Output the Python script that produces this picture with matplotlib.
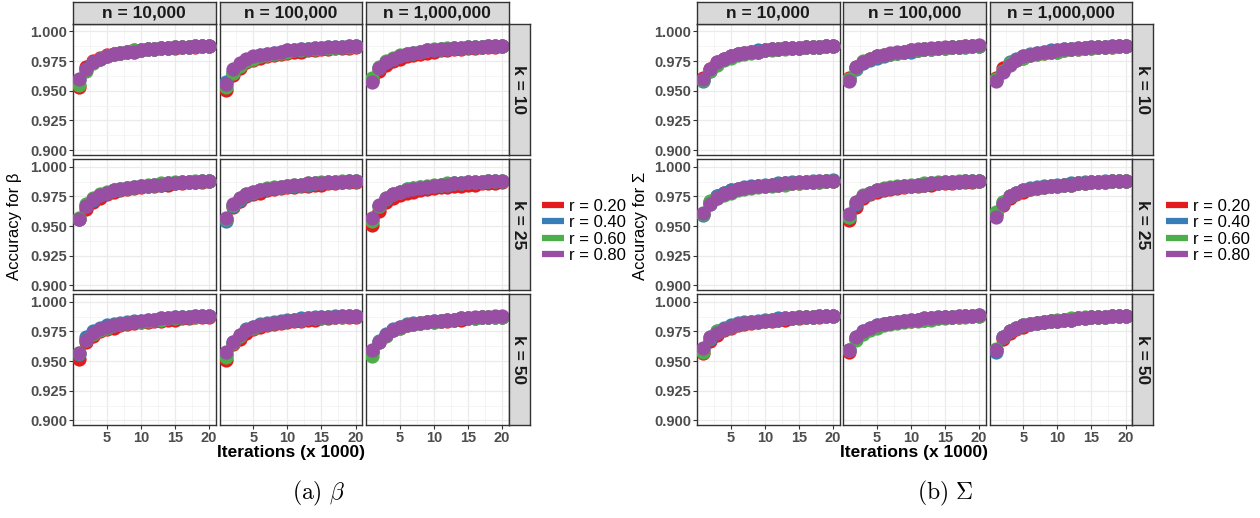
import matplotlib
matplotlib.use("Agg")
import matplotlib.pyplot as plt
from matplotlib.lines import Line2D
from matplotlib.ticker import MultipleLocator

plt.rcParams['font.family'] = ['Liberation Sans', 'DejaVu Sans']
plt.rcParams['mathtext.fontset'] = 'cm'

W, H = 1260, 518

iterations = list(range(1, 21))
n_labels = ['n = 10,000', 'n = 100,000', 'n = 1,000,000']
k_labels = ['k = 10', 'k = 25', 'k = 50']
r_labels = ['r = 0.20', 'r = 0.40', 'r = 0.60', 'r = 0.80']
r_colors = ['#E41A1C', '#377EB8', '#4DAF4A', '#984EA3']

# ---- accuracy for beta: each panel holds one series per r (0.20, 0.40, 0.60, 0.80)
b_k10_n1 = [
    [0.953, 0.970, 0.975, 0.978, 0.980, 0.981, 0.982, 0.983, 0.984, 0.984, 0.985, 0.985, 0.986, 0.986, 0.986, 0.987, 0.987, 0.987, 0.988, 0.988],
    [0.959, 0.968, 0.974, 0.977, 0.979, 0.981, 0.982, 0.983, 0.983, 0.984, 0.985, 0.985, 0.986, 0.986, 0.987, 0.987, 0.987, 0.988, 0.988, 0.988],
    [0.955, 0.967, 0.973, 0.977, 0.979, 0.981, 0.982, 0.983, 0.984, 0.984, 0.985, 0.985, 0.986, 0.986, 0.987, 0.987, 0.987, 0.988, 0.988, 0.988],
    [0.960, 0.968, 0.974, 0.977, 0.979, 0.981, 0.982, 0.983, 0.983, 0.984, 0.985, 0.985, 0.986, 0.986, 0.987, 0.987, 0.987, 0.988, 0.988, 0.988],
]
b_k10_n2 = [
    [0.951, 0.963, 0.969, 0.974, 0.976, 0.978, 0.979, 0.980, 0.981, 0.982, 0.983, 0.983, 0.984, 0.984, 0.985, 0.985, 0.986, 0.986, 0.986, 0.987],
    [0.957, 0.966, 0.972, 0.976, 0.978, 0.980, 0.981, 0.982, 0.983, 0.984, 0.984, 0.985, 0.985, 0.986, 0.986, 0.987, 0.987, 0.987, 0.988, 0.988],
    [0.953, 0.965, 0.971, 0.975, 0.977, 0.979, 0.980, 0.981, 0.982, 0.983, 0.984, 0.984, 0.985, 0.985, 0.986, 0.986, 0.986, 0.987, 0.987, 0.988],
    [0.956, 0.968, 0.973, 0.977, 0.979, 0.980, 0.981, 0.982, 0.983, 0.984, 0.984, 0.985, 0.985, 0.986, 0.986, 0.987, 0.987, 0.987, 0.988, 0.988],
]
b_k10_n3 = [
    [0.958, 0.967, 0.972, 0.975, 0.977, 0.979, 0.980, 0.981, 0.982, 0.983, 0.984, 0.984, 0.985, 0.985, 0.986, 0.986, 0.987, 0.987, 0.987, 0.988],
    [0.960, 0.969, 0.974, 0.977, 0.979, 0.981, 0.982, 0.983, 0.984, 0.984, 0.985, 0.985, 0.986, 0.986, 0.987, 0.987, 0.987, 0.988, 0.988, 0.988],
    [0.961, 0.970, 0.975, 0.978, 0.980, 0.981, 0.982, 0.983, 0.984, 0.985, 0.985, 0.986, 0.986, 0.986, 0.987, 0.987, 0.987, 0.988, 0.988, 0.988],
    [0.957, 0.969, 0.974, 0.977, 0.979, 0.981, 0.982, 0.983, 0.984, 0.984, 0.985, 0.985, 0.986, 0.986, 0.987, 0.987, 0.987, 0.988, 0.988, 0.988],
]
b_k25_n1 = [
    [0.956, 0.964, 0.970, 0.974, 0.977, 0.979, 0.980, 0.981, 0.982, 0.983, 0.984, 0.984, 0.985, 0.985, 0.986, 0.986, 0.987, 0.987, 0.987, 0.988],
    [0.956, 0.967, 0.972, 0.976, 0.978, 0.980, 0.981, 0.982, 0.983, 0.984, 0.984, 0.985, 0.985, 0.986, 0.986, 0.987, 0.987, 0.987, 0.988, 0.988],
    [0.957, 0.969, 0.974, 0.977, 0.979, 0.980, 0.981, 0.982, 0.983, 0.984, 0.985, 0.985, 0.986, 0.986, 0.987, 0.987, 0.987, 0.988, 0.988, 0.988],
    [0.956, 0.967, 0.973, 0.976, 0.978, 0.980, 0.981, 0.982, 0.983, 0.984, 0.984, 0.985, 0.985, 0.986, 0.986, 0.987, 0.987, 0.987, 0.988, 0.988],
]
b_k25_n2 = [
    [0.956, 0.966, 0.971, 0.975, 0.977, 0.978, 0.980, 0.981, 0.982, 0.983, 0.983, 0.984, 0.984, 0.985, 0.985, 0.986, 0.986, 0.987, 0.987, 0.987],
    [0.954, 0.967, 0.972, 0.976, 0.978, 0.980, 0.981, 0.982, 0.983, 0.984, 0.984, 0.985, 0.985, 0.986, 0.986, 0.987, 0.987, 0.987, 0.988, 0.988],
    [0.956, 0.968, 0.974, 0.977, 0.979, 0.980, 0.982, 0.983, 0.983, 0.984, 0.985, 0.985, 0.986, 0.986, 0.987, 0.987, 0.987, 0.988, 0.988, 0.988],
    [0.957, 0.969, 0.974, 0.977, 0.979, 0.980, 0.981, 0.982, 0.983, 0.984, 0.985, 0.985, 0.986, 0.986, 0.986, 0.987, 0.987, 0.987, 0.988, 0.988],
]
b_k25_n3 = [
    [0.951, 0.963, 0.970, 0.974, 0.976, 0.978, 0.979, 0.980, 0.981, 0.982, 0.983, 0.983, 0.984, 0.984, 0.985, 0.985, 0.986, 0.986, 0.986, 0.987],
    [0.955, 0.967, 0.973, 0.977, 0.979, 0.981, 0.982, 0.983, 0.983, 0.984, 0.985, 0.985, 0.986, 0.986, 0.987, 0.987, 0.987, 0.988, 0.988, 0.988],
    [0.954, 0.967, 0.974, 0.977, 0.979, 0.981, 0.982, 0.983, 0.984, 0.985, 0.985, 0.986, 0.986, 0.986, 0.987, 0.987, 0.987, 0.988, 0.988, 0.988],
    [0.957, 0.968, 0.974, 0.977, 0.979, 0.980, 0.981, 0.982, 0.983, 0.984, 0.985, 0.985, 0.986, 0.986, 0.987, 0.987, 0.987, 0.988, 0.988, 0.988],
]
b_k50_n1 = [
    [0.952, 0.966, 0.971, 0.975, 0.977, 0.978, 0.980, 0.981, 0.982, 0.983, 0.983, 0.984, 0.984, 0.985, 0.985, 0.986, 0.986, 0.987, 0.987, 0.987],
    [0.956, 0.970, 0.975, 0.978, 0.980, 0.981, 0.982, 0.983, 0.984, 0.984, 0.985, 0.985, 0.986, 0.986, 0.987, 0.987, 0.987, 0.988, 0.988, 0.988],
    [0.957, 0.968, 0.973, 0.976, 0.978, 0.980, 0.981, 0.982, 0.983, 0.983, 0.984, 0.985, 0.985, 0.986, 0.986, 0.987, 0.987, 0.987, 0.988, 0.988],
    [0.957, 0.968, 0.974, 0.977, 0.979, 0.980, 0.981, 0.982, 0.983, 0.984, 0.985, 0.985, 0.986, 0.986, 0.987, 0.987, 0.987, 0.988, 0.988, 0.988],
]
b_k50_n2 = [
    [0.951, 0.964, 0.969, 0.974, 0.977, 0.979, 0.980, 0.981, 0.982, 0.983, 0.984, 0.984, 0.985, 0.985, 0.986, 0.986, 0.987, 0.987, 0.987, 0.987],
    [0.955, 0.966, 0.972, 0.977, 0.979, 0.981, 0.982, 0.983, 0.984, 0.985, 0.985, 0.986, 0.986, 0.987, 0.987, 0.987, 0.988, 0.988, 0.988, 0.988],
    [0.953, 0.965, 0.971, 0.976, 0.978, 0.980, 0.981, 0.982, 0.983, 0.984, 0.985, 0.985, 0.986, 0.986, 0.986, 0.987, 0.987, 0.987, 0.988, 0.988],
    [0.958, 0.966, 0.972, 0.976, 0.979, 0.980, 0.981, 0.982, 0.983, 0.984, 0.985, 0.985, 0.986, 0.986, 0.987, 0.987, 0.987, 0.988, 0.988, 0.988],
]
b_k50_n3 = [
    [0.958, 0.966, 0.972, 0.976, 0.978, 0.980, 0.981, 0.982, 0.983, 0.983, 0.984, 0.984, 0.985, 0.985, 0.986, 0.986, 0.987, 0.987, 0.987, 0.987],
    [0.958, 0.967, 0.973, 0.977, 0.979, 0.981, 0.982, 0.982, 0.983, 0.984, 0.984, 0.985, 0.985, 0.986, 0.986, 0.986, 0.987, 0.987, 0.987, 0.987],
    [0.954, 0.966, 0.971, 0.976, 0.978, 0.980, 0.981, 0.982, 0.983, 0.983, 0.984, 0.985, 0.985, 0.986, 0.986, 0.986, 0.987, 0.987, 0.987, 0.987],
    [0.959, 0.966, 0.972, 0.976, 0.979, 0.980, 0.981, 0.982, 0.983, 0.984, 0.984, 0.985, 0.985, 0.986, 0.986, 0.987, 0.987, 0.987, 0.988, 0.988],
]

# ---- accuracy for Sigma
s_k10_n1 = [
    [0.961, 0.968, 0.974, 0.977, 0.979, 0.981, 0.982, 0.983, 0.983, 0.984, 0.985, 0.985, 0.986, 0.986, 0.986, 0.987, 0.987, 0.987, 0.988, 0.988],
    [0.958, 0.967, 0.973, 0.977, 0.979, 0.981, 0.982, 0.983, 0.984, 0.984, 0.985, 0.985, 0.986, 0.986, 0.986, 0.987, 0.987, 0.987, 0.988, 0.988],
    [0.959, 0.967, 0.972, 0.976, 0.978, 0.980, 0.981, 0.982, 0.983, 0.984, 0.984, 0.985, 0.985, 0.986, 0.986, 0.987, 0.987, 0.987, 0.988, 0.988],
    [0.960, 0.968, 0.974, 0.977, 0.979, 0.981, 0.982, 0.983, 0.983, 0.984, 0.985, 0.985, 0.986, 0.986, 0.986, 0.987, 0.987, 0.987, 0.988, 0.988],
]
s_k10_n2 = [
    [0.961, 0.970, 0.974, 0.977, 0.979, 0.980, 0.981, 0.982, 0.983, 0.984, 0.984, 0.985, 0.985, 0.986, 0.986, 0.987, 0.987, 0.988, 0.988, 0.988],
    [0.959, 0.968, 0.973, 0.976, 0.978, 0.979, 0.981, 0.982, 0.983, 0.983, 0.984, 0.985, 0.985, 0.986, 0.986, 0.987, 0.987, 0.987, 0.988, 0.988],
    [0.960, 0.969, 0.975, 0.977, 0.979, 0.980, 0.981, 0.982, 0.983, 0.984, 0.984, 0.985, 0.985, 0.986, 0.986, 0.987, 0.987, 0.987, 0.988, 0.988],
    [0.958, 0.970, 0.974, 0.977, 0.979, 0.980, 0.982, 0.983, 0.983, 0.984, 0.985, 0.985, 0.986, 0.986, 0.987, 0.987, 0.987, 0.988, 0.988, 0.989],
]
s_k10_n3 = [
    [0.961, 0.969, 0.973, 0.976, 0.978, 0.980, 0.981, 0.982, 0.983, 0.983, 0.984, 0.985, 0.985, 0.986, 0.986, 0.987, 0.987, 0.987, 0.988, 0.988],
    [0.959, 0.967, 0.974, 0.977, 0.979, 0.981, 0.982, 0.983, 0.984, 0.984, 0.985, 0.985, 0.986, 0.986, 0.987, 0.987, 0.987, 0.988, 0.988, 0.988],
    [0.960, 0.967, 0.973, 0.976, 0.978, 0.980, 0.981, 0.982, 0.983, 0.983, 0.984, 0.985, 0.985, 0.986, 0.986, 0.987, 0.987, 0.987, 0.988, 0.988],
    [0.958, 0.966, 0.972, 0.976, 0.979, 0.980, 0.982, 0.983, 0.983, 0.984, 0.985, 0.985, 0.986, 0.986, 0.987, 0.987, 0.987, 0.988, 0.988, 0.988],
]
s_k25_n1 = [
    [0.960, 0.970, 0.975, 0.978, 0.980, 0.981, 0.982, 0.983, 0.984, 0.984, 0.985, 0.985, 0.986, 0.986, 0.986, 0.987, 0.987, 0.987, 0.988, 0.988],
    [0.959, 0.969, 0.975, 0.978, 0.980, 0.981, 0.983, 0.984, 0.984, 0.985, 0.985, 0.986, 0.986, 0.987, 0.987, 0.987, 0.988, 0.988, 0.988, 0.989],
    [0.960, 0.971, 0.974, 0.976, 0.978, 0.980, 0.981, 0.982, 0.983, 0.984, 0.984, 0.985, 0.985, 0.986, 0.986, 0.987, 0.987, 0.987, 0.988, 0.988],
    [0.961, 0.969, 0.974, 0.977, 0.979, 0.981, 0.982, 0.983, 0.984, 0.984, 0.985, 0.985, 0.986, 0.986, 0.987, 0.987, 0.987, 0.988, 0.988, 0.988],
]
s_k25_n2 = [
    [0.955, 0.966, 0.974, 0.977, 0.979, 0.980, 0.981, 0.982, 0.983, 0.984, 0.984, 0.985, 0.985, 0.986, 0.986, 0.986, 0.987, 0.987, 0.987, 0.988],
    [0.958, 0.969, 0.975, 0.978, 0.980, 0.981, 0.982, 0.983, 0.984, 0.984, 0.985, 0.985, 0.986, 0.986, 0.987, 0.987, 0.987, 0.988, 0.988, 0.988],
    [0.958, 0.970, 0.976, 0.978, 0.980, 0.982, 0.983, 0.984, 0.984, 0.985, 0.985, 0.986, 0.986, 0.987, 0.987, 0.987, 0.988, 0.988, 0.988, 0.988],
    [0.960, 0.970, 0.975, 0.978, 0.980, 0.981, 0.982, 0.983, 0.984, 0.984, 0.985, 0.985, 0.986, 0.986, 0.987, 0.987, 0.987, 0.988, 0.988, 0.988],
]
s_k25_n3 = [
    [0.960, 0.968, 0.974, 0.977, 0.979, 0.981, 0.982, 0.983, 0.984, 0.984, 0.985, 0.985, 0.986, 0.986, 0.987, 0.987, 0.987, 0.988, 0.988, 0.988],
    [0.960, 0.970, 0.975, 0.978, 0.980, 0.982, 0.983, 0.984, 0.984, 0.985, 0.985, 0.986, 0.986, 0.987, 0.987, 0.987, 0.988, 0.988, 0.988, 0.988],
    [0.962, 0.970, 0.975, 0.978, 0.980, 0.981, 0.982, 0.983, 0.984, 0.984, 0.985, 0.985, 0.986, 0.986, 0.987, 0.987, 0.987, 0.988, 0.988, 0.988],
    [0.958, 0.969, 0.975, 0.978, 0.980, 0.981, 0.982, 0.983, 0.984, 0.984, 0.985, 0.985, 0.986, 0.986, 0.987, 0.987, 0.987, 0.988, 0.988, 0.988],
]
s_k50_n1 = [
    [0.957, 0.967, 0.972, 0.976, 0.978, 0.980, 0.981, 0.982, 0.983, 0.984, 0.984, 0.985, 0.985, 0.986, 0.986, 0.987, 0.987, 0.987, 0.988, 0.988],
    [0.960, 0.969, 0.975, 0.978, 0.980, 0.982, 0.983, 0.983, 0.984, 0.985, 0.985, 0.986, 0.986, 0.986, 0.987, 0.987, 0.987, 0.988, 0.988, 0.988],
    [0.958, 0.970, 0.975, 0.977, 0.979, 0.981, 0.982, 0.983, 0.983, 0.984, 0.985, 0.985, 0.986, 0.986, 0.987, 0.987, 0.987, 0.988, 0.988, 0.988],
    [0.961, 0.970, 0.974, 0.977, 0.979, 0.981, 0.982, 0.983, 0.983, 0.984, 0.985, 0.985, 0.986, 0.986, 0.987, 0.987, 0.987, 0.988, 0.988, 0.988],
]
s_k50_n2 = [
    [0.958, 0.969, 0.974, 0.977, 0.979, 0.981, 0.982, 0.983, 0.984, 0.984, 0.985, 0.985, 0.986, 0.986, 0.987, 0.987, 0.987, 0.988, 0.988, 0.988],
    [0.959, 0.970, 0.975, 0.978, 0.980, 0.981, 0.982, 0.983, 0.984, 0.985, 0.985, 0.986, 0.986, 0.987, 0.987, 0.987, 0.988, 0.988, 0.988, 0.989],
    [0.959, 0.968, 0.973, 0.976, 0.978, 0.980, 0.981, 0.982, 0.983, 0.984, 0.984, 0.985, 0.985, 0.986, 0.986, 0.987, 0.987, 0.987, 0.988, 0.988],
    [0.959, 0.970, 0.975, 0.978, 0.980, 0.981, 0.982, 0.983, 0.984, 0.985, 0.985, 0.986, 0.986, 0.987, 0.987, 0.987, 0.988, 0.988, 0.988, 0.989],
]
s_k50_n3 = [
    [0.959, 0.969, 0.974, 0.977, 0.979, 0.981, 0.982, 0.983, 0.984, 0.984, 0.985, 0.985, 0.986, 0.986, 0.987, 0.987, 0.987, 0.988, 0.988, 0.988],
    [0.958, 0.970, 0.975, 0.978, 0.980, 0.981, 0.982, 0.983, 0.984, 0.984, 0.985, 0.985, 0.986, 0.986, 0.987, 0.987, 0.987, 0.988, 0.988, 0.988],
    [0.960, 0.970, 0.975, 0.978, 0.980, 0.981, 0.982, 0.983, 0.984, 0.985, 0.985, 0.986, 0.986, 0.987, 0.987, 0.987, 0.987, 0.988, 0.988, 0.988],
    [0.959, 0.970, 0.975, 0.978, 0.980, 0.981, 0.982, 0.983, 0.984, 0.984, 0.985, 0.985, 0.986, 0.986, 0.987, 0.987, 0.987, 0.988, 0.988, 0.988],
]

beta_panels = [[b_k10_n1, b_k10_n2, b_k10_n3],
               [b_k25_n1, b_k25_n2, b_k25_n3],
               [b_k50_n1, b_k50_n2, b_k50_n3]]
sigma_panels = [[s_k10_n1, s_k10_n2, s_k10_n3],
                [s_k25_n1, s_k25_n2, s_k25_n3],
                [s_k50_n1, s_k50_n2, s_k50_n3]]

y_ticks = [0.900, 0.925, 0.950, 0.975, 1.000]
x_ticks = [5, 10, 15, 20]

fig = plt.figure(figsize=(W / 100, H / 100), dpi=100)


def px_axes(x, y, w, h):
    # pixel box (top-left origin) -> figure axes
    return fig.add_axes([x / W, 1 - (y + h) / H, w / W, h / H])


def strip(x, y, w, h, label, rot):
    ax = px_axes(x, y, w, h)
    ax.set_facecolor('#D9D9D9')
    ax.set_xticks([])
    ax.set_yticks([])
    for s in ax.spines.values():
        s.set_color('#333333')
        s.set_linewidth(1.0)
    ax.text(0.5, 0.5, label, transform=ax.transAxes, ha='center', va='center',
            rotation=rot, fontsize=12.5, fontweight='bold', color='#1A1A1A')


def draw_grid(panels, col_x, ylabel, ylabel_x, legend_x, caption, caption_x):
    row_y = [24, 159.3, 294.3]
    pw, ph = 142.5, 131
    for i in range(3):
        for j in range(3):
            ax = px_axes(col_x[j], row_y[i], pw, ph)
            for r in range(4):
                ax.scatter(iterations, panels[i][j][r], s=105, color=r_colors[r],
                           linewidths=0, zorder=3)
            ax.set_xlim(0.05, 20.95)
            ax.set_ylim(0.8958, 1.0063)
            ax.set_xticks(x_ticks)
            ax.set_yticks(y_ticks)
            ax.xaxis.set_minor_locator(MultipleLocator(2.5))
            ax.yaxis.set_minor_locator(MultipleLocator(0.0125))
            ax.grid(which='major', color='#EBEBEB', linewidth=0.9)
            ax.grid(which='minor', color='#F2F2F2', linewidth=0.5)
            ax.set_axisbelow(True)
            for s in ax.spines.values():
                s.set_color('#333333')
                s.set_linewidth(1.0)
            ax.tick_params(which='minor', length=0)
            ax.tick_params(which='major', length=3, width=0.8, color='#333333',
                           pad=1.2, labelsize=10.5, labelcolor='#4D4D4D')
            if j == 0:
                ax.set_yticklabels([f'{v:.3f}' for v in y_ticks], fontweight='bold')
            else:
                ax.tick_params(axis='y', length=0, labelleft=False)
            if i == 2:
                ax.set_xticklabels([str(v) for v in x_ticks], fontweight='bold')
            else:
                ax.tick_params(axis='x', length=0, labelbottom=False)
            if i == 0:
                strip(col_x[j], 1.7, pw, 22.3, n_labels[j], 0)
        strip(col_x[2] + pw, row_y[i], 21, ph, k_labels[i], -90)

    x_mid = (col_x[0] + col_x[2] + pw) / 2
    fig.text(x_mid / W, 1 - 453 / H, 'Iterations (x 1000)', ha='center', va='center',
             fontsize=12.5, fontweight='bold')
    fig.text(ylabel_x / W, 1 - 226 / H, ylabel, ha='center', va='center',
             rotation=90, fontsize=12)
    handles = [Line2D([], [], color=c, linewidth=4.5, solid_capstyle='butt') for c in r_colors]
    fig.legend(handles, r_labels, loc='center left', bbox_to_anchor=(legend_x / W, 1 - 231 / H),
               frameon=False, fontsize=12, handlelength=1.3, handletextpad=0.3,
               labelspacing=0.08, borderpad=0, borderaxespad=0)
    fig.text(caption_x / W, 1 - 493 / H, caption, ha='center', va='center', fontsize=17)


draw_grid(beta_panels, [73, 219.5, 366], 'Accuracy for β', 15, 542,
          r'$\mathrm{(a)}\ \beta$', 318)
draw_grid(sigma_panels, [697, 843, 989.5], 'Accuracy for Σ', 640, 1166,
          r'$\mathrm{(b)}\ \Sigma$', 945)

fig.savefig('out.png', dpi=100)
